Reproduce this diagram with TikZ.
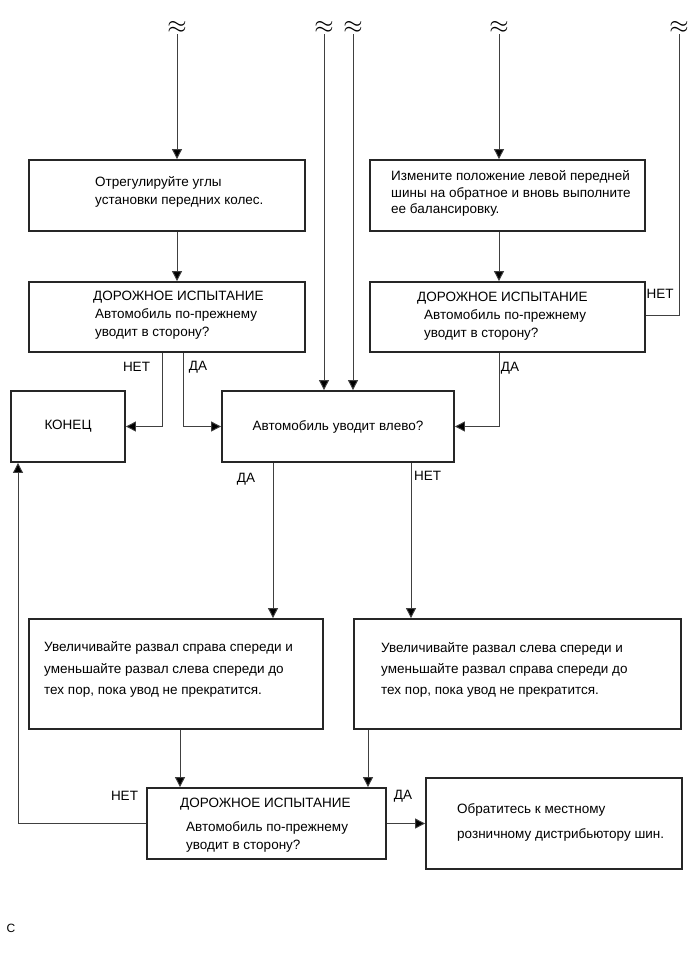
\documentclass[tikz,border=0pt]{standalone}
\usepackage{fontspec}
\setmainfont{Liberation Sans}
\usetikzlibrary{arrows.meta}
\tikzset{
  box/.style={draw=black!85, line width=1.8pt, inner sep=0pt},
  txt/.style={font=\fontsize{13.5}{18}\selectfont, inner sep=0pt, align=left, anchor=north west},
  lbl/.style={font=\fontsize{13.5}{16}\selectfont, inner sep=0pt},
  brk/.style={font=\fontsize{24}{24}\selectfont, inner sep=0pt, anchor=south},
  flow/.style={draw=black!75, line width=0.9pt},
  arr/.style={flow, -{Triangle[length=10pt,width=10pt,fill=black]}},
}
\begin{document}
\begin{tikzpicture}[x=1pt,y=-1pt]
  \useasboundingbox (0,0) rectangle (692,953);
  % breaks at the top
  \foreach \n/\x in {1/177,2/324,3/353,4/499,5/679}
    \node[brk] (brk\n) at (\x,34) {$\approx$};
  % boxes
  \node[box, minimum width=276, minimum height=71] (adjust) at (167,195.5) {};
  \node[box, minimum width=276, minimum height=70] (test1) at (167,317) {};
  \node[box, minimum width=275, minimum height=71] (swap) at (507.5,195.5) {};
  \node[box, minimum width=275, minimum height=70] (test2) at (507.5,317) {};
  \node[box, minimum width=114, minimum height=71, font=\fontsize{13.5}{16}\selectfont] (finish) at (68,426.5) {КОНЕЦ};
  \node[box, minimum width=232, minimum height=71, font=\fontsize{13.5}{16}\selectfont] (pullleft) at (338,426.5) {Автомобиль уводит влево?};
  \node[box, minimum width=294, minimum height=110] (camR) at (176,674) {};
  \node[box, minimum width=327, minimum height=110] (camL) at (517.5,674) {};
  \node[box, minimum width=239, minimum height=71] (test3) at (266.5,823.5) {};
  \node[box, minimum width=256, minimum height=91] (dealer) at (554,823.5) {};
  % box texts
  \node[txt] (adjust-t) at (95,176.5) {Отрегулируйте углы\\установки передних колес.};
  \node[txt] (test1-t) at (95,290.5) {\hspace*{-2pt}ДОРОЖНОЕ ИСПЫТАНИЕ\\Автомобиль по-прежнему\\уводит в сторону?};
  \node[txt, font=\fontsize{13.5}{16.5}\selectfont] (swap-t) at (391,170.5) {Измените положение левой передней\\шины на обратное и вновь выполните\\ее балансировку.};
  \node[txt] (test2-t) at (424,291.5) {\hspace*{-7pt}ДОРОЖНОЕ ИСПЫТАНИЕ\\Автомобиль по-прежнему\\уводит в сторону?};
  \node[txt, font=\fontsize{13.5}{21.5}\selectfont] (camR-t) at (44,641.5) {Увеличивайте развал справа спереди и\\уменьшайте развал слева спереди до\\тех пор, пока увод не прекратится.};
  \node[txt, font=\fontsize{13.5}{21}\selectfont] (camL-t) at (381,642.5) {Увеличивайте развал слева спереди и\\уменьшайте развал справа спереди до\\тех пор, пока увод не прекратится.};
  \node[txt] (test3-t) at (186,797.5) {\hspace*{-6pt}ДОРОЖНОЕ ИСПЫТАНИЕ\\[6pt]Автомобиль по-прежнему\\уводит в сторону?};
  \node[txt, font=\fontsize{13.5}{25}\selectfont] (dealer-t) at (457,803.5) {Обратитесь к местному\\розничному дистрибьютору шин.};
  % connectors
  \draw[arr] (brk1.south) -- (brk1.south |- adjust.north);
  \draw[arr] (brk2.south) -- (brk2.south |- pullleft.north);
  \draw[arr] (brk3.south) -- (brk3.south |- pullleft.north);
  \draw[arr] (brk4.south) -- (brk4.south |- swap.north);
  \draw[flow] ([yshift=2pt]test2.east) -| (brk5.south);
  \draw[arr] ([xshift=10pt]adjust.south) -- ([xshift=10pt]test1.north);
  \draw[arr] ([xshift=-8.5pt]swap.south) -- ([xshift=-8.5pt]test2.north);
  \draw[arr] ([xshift=-5pt]test1.south) |- (finish.east);
  \draw[arr] ([xshift=16pt]test1.south) |- (pullleft.west);
  \draw[arr] ([xshift=-8.5pt]test2.south) |- (pullleft.east);
  \draw[arr] ([xshift=-65pt]pullleft.south) -- ([xshift=-65pt]pullleft.south |- camR.north);
  \draw[arr] ([xshift=73pt]pullleft.south) -- ([xshift=73pt]pullleft.south |- camL.north);
  \draw[arr] ([xshift=4pt]camR.south) -- ([xshift=4pt]camR.south |- test3.north);
  \draw[arr] ([xshift=-149.5pt]camL.south) -- ([xshift=-149.5pt]camL.south |- test3.north);
  \draw[arr] (test3.west) -| ([xshift=-50pt]finish.south);
  \draw[arr] (test3.east) -- (dealer.west);
  % labels
  \node[lbl] (test1-no) at (136.5,367) {НЕТ};
  \node[lbl] (test1-yes) at (198,367) {ДА};
  \node[lbl] (test2-yes) at (510,368) {ДА};
  \node[lbl] (test2-no) at (660,294) {НЕТ};
  \node[lbl] (pull-yes) at (246,479) {ДА};
  \node[lbl] (pull-no) at (427.5,476) {НЕТ};
  \node[lbl] (test3-no) at (124.5,796) {НЕТ};
  \node[lbl] (test3-yes) at (403,796) {ДА};
  \node[font=\fontsize{12}{14}\selectfont, inner sep=0pt] (mark) at (11,928) {C};
\end{tikzpicture}
\end{document}
